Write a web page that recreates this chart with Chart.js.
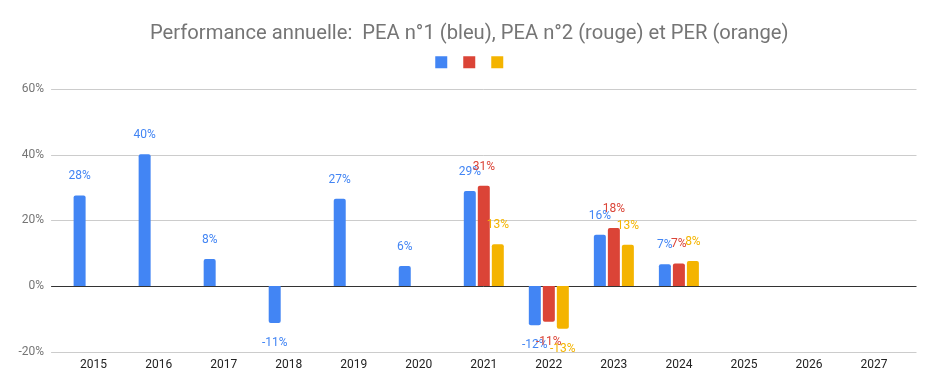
<!DOCTYPE html>
<html>
<head>
<meta charset="utf-8">
<script src="https://cdn.jsdelivr.net/npm/chart.js@4/dist/chart.umd.min.js"></script>
<style>
  html, body { margin: 0; padding: 0; background: #fff; }
  #wrap { width: 937px; height: 392px; }
</style>
</head>
<body>
<div id="wrap"><canvas id="perf"></canvas></div>
<script>
const years = ['2015', '2016', '2017', '2018', '2019', '2020', '2021', '2022', '2023', '2024', '2025', '2026', '2027']
const pea1 = [27.6, 40.2, 8.2, -11.3, 26.6, 6.1, 29.0, -12.0, 15.6, 6.6, null, null, null]
const pea2 = [null, null, null, null, null, null, 30.6, -10.9, 17.7, 6.9, null, null, null]
const per = [null, null, null, null, null, null, 12.7, -13.0, 12.6, 7.6, null, null, null]
const yTicks = [-20, 0, 20, 40, 60]

const colors = ['#4285f4', '#db4437', '#f4b400']
Chart.defaults.font.family = 'Roboto'

// horizontal grid lines run a bit past the plot area, zero line darker
const gridLines = {
  id: 'gridLines',
  beforeDatasetsDraw (chart) {
    const { ctx, chartArea, scales } = chart
    ctx.save()
    yTicks.forEach((v) => {
      const y = Math.round(scales.y.getPixelForValue(v)) + 0.5
      ctx.strokeStyle = v === 0 ? '#333333' : '#cccccc'
      ctx.lineWidth = 1
      ctx.beginPath()
      ctx.moveTo(chartArea.left - 10, y)
      ctx.lineTo(chartArea.right + 10, y)
      ctx.stroke()
    })
    ctx.restore()
  }
}

// value labels over / under each bar
const valueLabels = {
  id: 'valueLabels',
  afterDatasetsDraw (chart) {
    const { ctx } = chart
    ctx.save()
    ctx.font = '12px Roboto'
    ctx.textAlign = 'center'
    ctx.textBaseline = 'middle'
    chart.data.datasets.forEach((ds, i) => {
      const meta = chart.getDatasetMeta(i)
      meta.data.forEach((bar, j) => {
        const v = ds.data[j]
        if (v === null) return
        ctx.fillStyle = colors[i]
        const y = v >= 0 ? bar.y - 19 : bar.y + 20
        ctx.fillText(Math.round(v) + '%', bar.x, y)
      })
    })
    ctx.restore()
  }
}

// extra room under the legend, and nudge it a little to the right
const legendGap = {
  id: 'legendGap',
  beforeInit (chart) {
    const fit = chart.legend.fit
    chart.legend.fit = function () {
      fit.bind(chart.legend)()
      this.height += 11
    }
  },
  afterLayout (chart) {
    chart.legend.left += 3
    chart.legend.right += 3
  }
}

const series = [
  { label: 'PEA n°1', data: pea1 },
  { label: 'PEA n°2', data: pea2 },
  { label: 'PER', data: per }
]

new Chart(document.getElementById('perf'), {
  type: 'bar',
  data: {
    labels: years,
    datasets: series.map((s, i) => ({
      label: s.label,
      data: s.data,
      backgroundColor: colors[i],
      borderWidth: 0,
      borderRadius: 2,
      categoryPercentage: 0.646,
      barPercentage: 0.857
    }))
  },
  options: {
    responsive: true,
    maintainAspectRatio: false,
    animation: false,
    layout: { padding: { left: 1.5, right: 0, top: 0, bottom: 14 } },
    plugins: {
      title: {
        display: true,
        text: 'Performance annuelle:  PEA n°1 (bleu), PEA n°2 (rouge) et PER (orange)',
        color: '#757575',
        font: { size: 20.2, weight: 'normal' },
        padding: { top: 22, bottom: 0 }
      },
      legend: {
        display: true,
        labels: {
          boxWidth: 12,
          boxHeight: 12,
          padding: 10,
          font: { size: 12 },
          generateLabels: (chart) =>
            Chart.defaults.plugins.legend.labels.generateLabels(chart).map((l) => ({ ...l, text: '' }))
        }
      },
      tooltip: { enabled: false }
    },
    scales: {
      x: {
        grid: { display: false, drawTicks: false },
        border: { display: false },
        ticks: { color: '#222222', font: { size: 12 }, padding: 6 }
      },
      y: {
        min: -20,
        max: 60,
        grid: { display: false, drawTicks: false },
        border: { display: false },
        ticks: {
          stepSize: 20,
          color: '#757575',
          font: { size: 12 },
          padding: 17,
          callback: (v) => v + '%'
        }
      },
      // empty right-hand axis, only keeps a margin on the right
      yRight: {
        position: 'right',
        display: true,
        grid: { display: false, drawTicks: false },
        border: { display: false },
        ticks: { display: false },
        afterFit: (scale) => { scale.width = 30.5 }
      }
    }
  },
  plugins: [gridLines, valueLabels, legendGap]
})
</script>
</body>
</html>
